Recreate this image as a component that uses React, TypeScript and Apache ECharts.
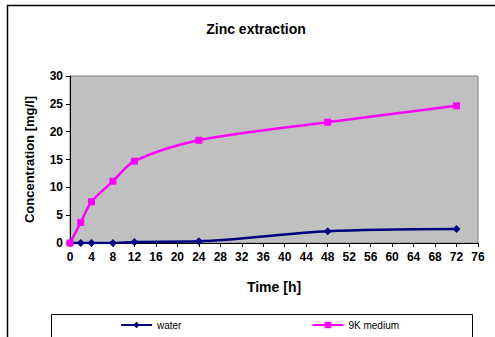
import React, { useEffect, useRef } from "react";
import * as echarts from "echarts";

const hours = [0, 2, 4, 8, 12, 24, 48, 72];
const waterValues = [0, 0, 0, 0, 0.2, 0.3, 2.1, 2.5];
const mediumValues = [0, 3.7, 7.4, 11.1, 14.7, 18.45, 21.7, 24.65];
const seriesNames = ["water", "9K medium"];
const titleText = "Zinc extraction";
const xName = "Time [h]";
const yName = "Concentration [mg/l]";

const FONT = 'Arial, "Liberation Sans", sans-serif';

export default function App() {
  const ref = useRef<HTMLDivElement>(null);
  useEffect(() => {
    if (!ref.current) return;
    const chart = echarts.init(ref.current, undefined, { renderer: "svg" });
    const toPairs = (vals: number[]) => hours.map((h, i) => [h, vals[i]]);
    chart.setOption({
      animation: false,
      backgroundColor: "#ffffff",
      title: {
        text: titleText,
        left: 251,
        textAlign: "center",
        top: 17,
        textStyle: { fontFamily: FONT, fontWeight: "bold", fontSize: 14, color: "#000" },
      },
      grid: {
        left: 70,
        top: 76,
        right: 17,
        bottom: 94,
        show: true,
        backgroundColor: "#C0C0C0",
        borderColor: "#808080",
        borderWidth: 1,
      },
      xAxis: {
        type: "value",
        min: 0,
        max: 76,
        interval: 4,
        name: xName,
        nameLocation: "middle",
        nameGap: 37,
        nameTextStyle: { fontFamily: FONT, fontWeight: "bold", fontSize: 14, color: "#000" },
        axisLine: { show: true, lineStyle: { color: "#000", width: 1 } },
        axisTick: { show: true, inside: false, length: 4, lineStyle: { color: "#000" } },
        axisLabel: { fontFamily: FONT, fontWeight: "bold", fontSize: 12, color: "#000", margin: 8 },
        splitLine: { show: false },
      },
      yAxis: {
        type: "value",
        min: 0,
        max: 30,
        interval: 5,
        name: yName,
        nameLocation: "middle",
        nameGap: 34,
        nameTextStyle: { fontFamily: FONT, fontWeight: "bold", fontSize: 13, color: "#000" },
        axisLine: { show: true, lineStyle: { color: "#000", width: 1 } },
        axisTick: { show: true, inside: false, length: 4, lineStyle: { color: "#000" } },
        axisLabel: { fontFamily: FONT, fontWeight: "bold", fontSize: 12, color: "#000", margin: 7 },
        splitLine: { show: false },
      },
      legend: {
        left: 120,
        top: 320,
        padding: 0,
        itemGap: 130,
        itemWidth: 31,
        itemHeight: 8,
        textStyle: { fontFamily: FONT, fontSize: 10, color: "#000" },
        data: seriesNames,
      },
      graphic: [
        {
          type: "rect",
          shape: { x: 7.5, y: 5.5, width: 500, height: 340 },
          style: { fill: "none", stroke: "#000", lineWidth: 1.5 },
          silent: true,
          z: -1,
        },
        {
          type: "rect",
          shape: { x: 51.5, y: 314.5, width: 421, height: 23 },
          style: { fill: "none", stroke: "#000", lineWidth: 1 },
          silent: true,
        },
      ],
      series: [
        {
          name: seriesNames[0],
          type: "line",
          data: toPairs(waterValues),
          smooth: 0.3,
          symbol: "diamond",
          symbolSize: 8,
          itemStyle: { color: "#000080" },
          lineStyle: { color: "#000080", width: 2.5 },
          z: 2,
        },
        {
          name: seriesNames[1],
          type: "line",
          data: toPairs(mediumValues),
          smooth: 0.3,
          symbol: "rect",
          symbolSize: 7,
          itemStyle: { color: "#FF00FF" },
          lineStyle: { color: "#FF00FF", width: 2.5 },
          z: 3,
        },
      ],
    });
    return () => chart.dispose();
  }, []);
  return (
    <div
      ref={ref}
      style={{ position: "fixed", left: 0, top: 0, width: 495, height: 337 }}
    />
  );
}
